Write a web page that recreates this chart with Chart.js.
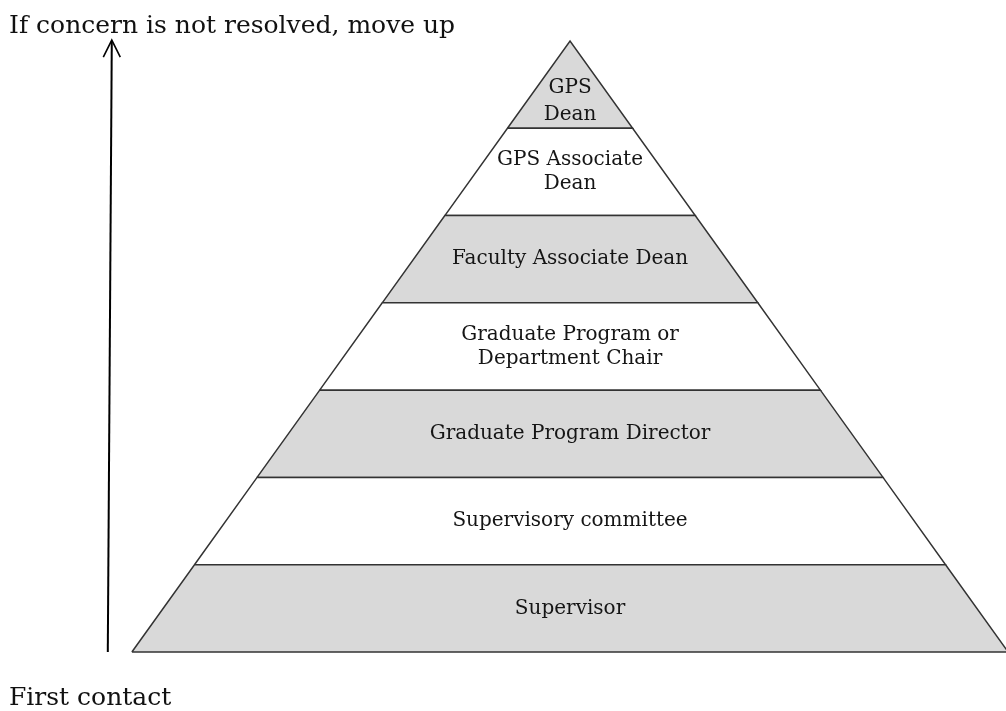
<!DOCTYPE html>
<html>
<head>
<meta charset="utf-8">
<script src="https://cdn.jsdelivr.net/npm/chart.js@4"></script>
<style>
  html, body { margin: 0; padding: 0; background: #fff; }
  #wrap { width: 1006px; height: 711px; position: relative; }
</style>
</head>
<body>
<div id="wrap"><canvas id="pyramid"></canvas></div>
<script>
// Levels from bottom (first contact) to top
const levelLabels = [
    ['Supervisor'],
    ['Supervisory committee'],
    ['Graduate Program Director'],
    ['Graduate Program or', 'Department Chair'],
    ['Faculty Associate Dean'],
    ['GPS Associate', 'Dean'],
    ['GPS', 'Dean']
];
const levelShaded = [true, false, true, false, true, false, true];
const topCaption = 'If concern is not resolved, move up';
const bottomCaption = 'First contact';

const SERIF = '"DejaVu Serif", "Liberation Serif", serif';
const nLevels = levelLabels.length;

// half width of pyramid at a given height (base half width = 1)
function halfWidth(y) {
    return (nLevels - y) / nLevels;
}

const datasets = levelLabels.map((lbl, i) => {
    const y0 = i, y1 = i + 1;
    return {
        label: lbl.join(' '),
        data: [
            { x: -halfWidth(y0), y: y0 },
            { x: halfWidth(y0), y: y0 },
            { x: halfWidth(y1), y: y1 },
            { x: -halfWidth(y1), y: y1 },
            { x: -halfWidth(y0), y: y0 }
        ],
        showLine: true,
        fill: false,
        backgroundColor: levelShaded[i] ? '#d9d9d9' : '#ffffff',
        borderColor: '#333333',
        borderWidth: 1.5,
        pointRadius: 0,
        tension: 0,
        clip: false
    };
});

// fills each closed level shape before its outline is stroked
const levelFill = {
    id: 'levelFill',
    beforeDatasetDraw(chart, args) {
        const pts = args.meta.data;
        if (!pts.length) return;
        const { ctx } = chart;
        ctx.save();
        ctx.beginPath();
        pts.forEach((p, k) => (k ? ctx.lineTo(p.x, p.y) : ctx.moveTo(p.x, p.y)));
        ctx.closePath();
        ctx.fillStyle = chart.data.datasets[args.index].backgroundColor;
        ctx.fill();
        ctx.restore();
    }
};

const annotations = {
    id: 'pyramidText',
    afterDatasetsDraw(chart) {
        const { ctx, scales: { x, y } } = chart;
        ctx.save();
        ctx.fillStyle = '#151515';
        ctx.textAlign = 'center';
        ctx.textBaseline = 'middle';
        ctx.font = '20px ' + SERIF;
        levelLabels.forEach((lines, i) => {
            // top triangle sits low in its level; trapezoids: middle
            const cy = i === nLevels - 1 ? i + 0.31 : i + 0.5;
            const py = y.getPixelForValue(cy);
            const px = x.getPixelForValue(0);
            const lh = i === nLevels - 1 ? 27 : 24;
            lines.forEach((t, k) => {
                ctx.fillText(t, px, py + (k - (lines.length - 1) / 2) * lh);
            });
        });

        // arrow (slightly leaning, as in the source)
        const xBot = x.getPixelForValue(-1.055);
        const xTop = xBot + 4;
        const yBot = y.getPixelForValue(0);
        const yTop = y.getPixelForValue(nLevels + 0.01);
        ctx.strokeStyle = '#000';
        ctx.lineWidth = 2;
        ctx.beginPath();
        ctx.moveTo(xBot, yBot);
        ctx.lineTo(xTop, yTop + 1);
        ctx.stroke();
        ctx.beginPath();
        ctx.moveTo(xTop - 8.5, yTop + 17);
        ctx.lineTo(xTop, yTop);
        ctx.lineTo(xTop + 8.5, yTop + 17);
        ctx.lineWidth = 1.6;
        ctx.stroke();

        // captions
        ctx.textAlign = 'left';
        ctx.textBaseline = 'alphabetic';
        ctx.fillStyle = '#111';
        ctx.font = '25px ' + SERIF;
        ctx.fillText(topCaption, 9, 33);
        ctx.fillText(bottomCaption, 9, 705);
        ctx.restore();
    }
};

function initPyramid() {
    const ctx = document.getElementById('pyramid');
    new Chart(ctx, {
        type: 'scatter',
        data: { datasets },
        options: {
            responsive: true,
            maintainAspectRatio: false,
            animation: false,
            layout: { padding: 0 },
            plugins: { legend: { display: false }, tooltip: { enabled: false } },
            scales: {
                x: { type: 'linear', display: false, min: -1.301, max: 0.995 },
                y: { type: 'linear', display: false, min: -0.676, max: 7.47 }
            }
        },
        plugins: [levelFill, annotations]
    });
}

document.addEventListener('DOMContentLoaded', initPyramid);
</script>
</body>
</html>
